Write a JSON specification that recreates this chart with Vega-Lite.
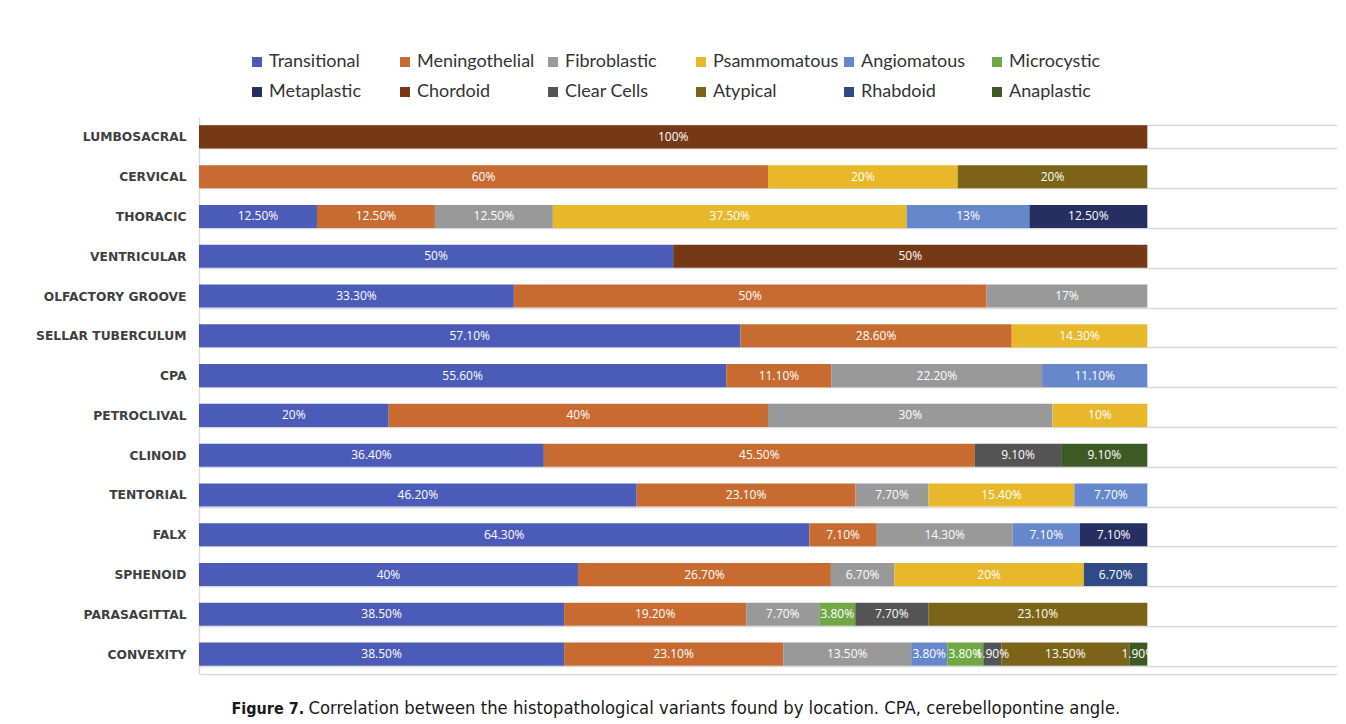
{
  "$schema": "https://vega.github.io/schema/vega-lite/v6.json",
  "width": 1138,
  "height": 557,
  "autosize": {"type": "none"},
  "padding": {"left": 199, "top": 117, "right": 9, "bottom": 50},
  "background": "white",
  "config": {
    "view": {"stroke": null},
    "axis": {"labelFont": "DejaVu Sans", "titleFont": "DejaVu Sans Condensed"}
  },
  "data": {
    "values": [
      {"location": "LUMBOSACRAL", "variant": "Chordoid", "pct": 100, "label": "100%"},
      {"location": "CERVICAL", "variant": "Meningothelial", "pct": 60, "label": "60%"},
      {"location": "CERVICAL", "variant": "Psammomatous", "pct": 20, "label": "20%"},
      {"location": "CERVICAL", "variant": "Atypical", "pct": 20, "label": "20%"},
      {"location": "THORACIC", "variant": "Transitional", "pct": 12.5, "label": "12.50%"},
      {"location": "THORACIC", "variant": "Meningothelial", "pct": 12.5, "label": "12.50%"},
      {"location": "THORACIC", "variant": "Fibroblastic", "pct": 12.5, "label": "12.50%"},
      {"location": "THORACIC", "variant": "Psammomatous", "pct": 37.5, "label": "37.50%"},
      {"location": "THORACIC", "variant": "Angiomatous", "pct": 13, "label": "13%"},
      {"location": "THORACIC", "variant": "Metaplastic", "pct": 12.5, "label": "12.50%"},
      {"location": "VENTRICULAR", "variant": "Transitional", "pct": 50, "label": "50%"},
      {"location": "VENTRICULAR", "variant": "Chordoid", "pct": 50, "label": "50%"},
      {"location": "OLFACTORY GROOVE", "variant": "Transitional", "pct": 33.3, "label": "33.30%"},
      {"location": "OLFACTORY GROOVE", "variant": "Meningothelial", "pct": 50, "label": "50%"},
      {"location": "OLFACTORY GROOVE", "variant": "Fibroblastic", "pct": 17, "label": "17%"},
      {"location": "SELLAR TUBERCULUM", "variant": "Transitional", "pct": 57.1, "label": "57.10%"},
      {"location": "SELLAR TUBERCULUM", "variant": "Meningothelial", "pct": 28.6, "label": "28.60%"},
      {"location": "SELLAR TUBERCULUM", "variant": "Psammomatous", "pct": 14.3, "label": "14.30%"},
      {"location": "CPA", "variant": "Transitional", "pct": 55.6, "label": "55.60%"},
      {"location": "CPA", "variant": "Meningothelial", "pct": 11.1, "label": "11.10%"},
      {"location": "CPA", "variant": "Fibroblastic", "pct": 22.2, "label": "22.20%"},
      {"location": "CPA", "variant": "Angiomatous", "pct": 11.1, "label": "11.10%"},
      {"location": "PETROCLIVAL", "variant": "Transitional", "pct": 20, "label": "20%"},
      {"location": "PETROCLIVAL", "variant": "Meningothelial", "pct": 40, "label": "40%"},
      {"location": "PETROCLIVAL", "variant": "Fibroblastic", "pct": 30, "label": "30%"},
      {"location": "PETROCLIVAL", "variant": "Psammomatous", "pct": 10, "label": "10%"},
      {"location": "CLINOID", "variant": "Transitional", "pct": 36.4, "label": "36.40%"},
      {"location": "CLINOID", "variant": "Meningothelial", "pct": 45.5, "label": "45.50%"},
      {"location": "CLINOID", "variant": "Clear Cells", "pct": 9.1, "label": "9.10%"},
      {"location": "CLINOID", "variant": "Anaplastic", "pct": 9.1, "label": "9.10%"},
      {"location": "TENTORIAL", "variant": "Transitional", "pct": 46.2, "label": "46.20%"},
      {"location": "TENTORIAL", "variant": "Meningothelial", "pct": 23.1, "label": "23.10%"},
      {"location": "TENTORIAL", "variant": "Fibroblastic", "pct": 7.7, "label": "7.70%"},
      {"location": "TENTORIAL", "variant": "Psammomatous", "pct": 15.4, "label": "15.40%"},
      {"location": "TENTORIAL", "variant": "Angiomatous", "pct": 7.7, "label": "7.70%"},
      {"location": "FALX", "variant": "Transitional", "pct": 64.3, "label": "64.30%"},
      {"location": "FALX", "variant": "Meningothelial", "pct": 7.1, "label": "7.10%"},
      {"location": "FALX", "variant": "Fibroblastic", "pct": 14.3, "label": "14.30%"},
      {"location": "FALX", "variant": "Angiomatous", "pct": 7.1, "label": "7.10%"},
      {"location": "FALX", "variant": "Metaplastic", "pct": 7.1, "label": "7.10%"},
      {"location": "SPHENOID", "variant": "Transitional", "pct": 40, "label": "40%"},
      {"location": "SPHENOID", "variant": "Meningothelial", "pct": 26.7, "label": "26.70%"},
      {"location": "SPHENOID", "variant": "Fibroblastic", "pct": 6.7, "label": "6.70%"},
      {"location": "SPHENOID", "variant": "Psammomatous", "pct": 20, "label": "20%"},
      {"location": "SPHENOID", "variant": "Rhabdoid", "pct": 6.7, "label": "6.70%"},
      {"location": "PARASAGITTAL", "variant": "Transitional", "pct": 38.5, "label": "38.50%"},
      {"location": "PARASAGITTAL", "variant": "Meningothelial", "pct": 19.2, "label": "19.20%"},
      {"location": "PARASAGITTAL", "variant": "Fibroblastic", "pct": 7.7, "label": "7.70%"},
      {"location": "PARASAGITTAL", "variant": "Microcystic", "pct": 3.8, "label": "3.80%"},
      {"location": "PARASAGITTAL", "variant": "Clear Cells", "pct": 7.7, "label": "7.70%"},
      {"location": "PARASAGITTAL", "variant": "Atypical", "pct": 23.1, "label": "23.10%"},
      {"location": "CONVEXITY", "variant": "Transitional", "pct": 38.5, "label": "38.50%"},
      {"location": "CONVEXITY", "variant": "Meningothelial", "pct": 23.1, "label": "23.10%"},
      {"location": "CONVEXITY", "variant": "Fibroblastic", "pct": 13.5, "label": "13.50%"},
      {"location": "CONVEXITY", "variant": "Angiomatous", "pct": 3.8, "label": "3.80%"},
      {"location": "CONVEXITY", "variant": "Microcystic", "pct": 3.8, "label": "3.80%"},
      {"location": "CONVEXITY", "variant": "Clear Cells", "pct": 1.9, "label": "1.90%"},
      {"location": "CONVEXITY", "variant": "Atypical", "pct": 13.5, "label": "13.50%"},
      {"location": "CONVEXITY", "variant": "Anaplastic", "pct": 1.9, "label": "1.90%"}
    ]
  },
  "transform": [
    {"calculate": "indexof(['Transitional','Meningothelial','Fibroblastic','Psammomatous','Angiomatous','Microcystic','Metaplastic','Chordoid','Clear Cells','Atypical','Rhabdoid','Anaplastic'], datum.variant)", "as": "stackOrder"}
  ],
  "encoding": {
    "y": {
      "field": "location",
      "type": "nominal",
      "sort": ["LUMBOSACRAL", "CERVICAL", "THORACIC", "VENTRICULAR", "OLFACTORY GROOVE", "SELLAR TUBERCULUM", "CPA", "PETROCLIVAL", "CLINOID", "TENTORIAL", "FALX", "SPHENOID", "PARASAGITTAL", "CONVEXITY"],
      "scale": {"paddingInner": 0.42, "paddingOuter": 0.21},
      "axis": {
        "title": "Correlation between the histopathological variants found by location. CPA, cerebellopontine angle.",
        "titleAngle": 0,
        "titleX": 109,
        "titleY": 596,
        "titleAlign": "left",
        "titleBaseline": "alphabetic",
        "titleFontSize": 18.3,
        "titleFontWeight": "normal",
        "titleColor": "#1a1a1a",
        "labelFontSize": 12.3,
        "labelFontWeight": "bold",
        "labelColor": "#404040",
        "labelPadding": 13,
        "ticks": false,
        "tickBand": "extent",
        "grid": true,
        "gridColor": "#d9d9d9",
        "gridWidth": 1.5,
        "domainColor": "#d9d9d9",
        "domainWidth": 1.5
      }
    },
    "x": {
      "field": "pct",
      "type": "quantitative",
      "stack": "normalize",
      "scale": {"domain": [0, 1.2]},
      "axis": {
        "title": "Figure 7.",
        "titleX": 32,
        "titleY": 39,
        "titleAlign": "left",
        "titleBaseline": "alphabetic",
        "titleFontSize": 16,
        "titleFontWeight": "bold",
        "titleColor": "#1a1a1a",
        "labels": false,
        "ticks": false,
        "grid": false,
        "domainColor": "#d9d9d9",
        "domainWidth": 1.5
      }
    },
    "order": {"field": "stackOrder", "type": "quantitative"}
  },
  "layer": [
    {
      "mark": {"type": "bar"},
      "encoding": {
        "color": {
          "field": "variant",
          "type": "nominal",
          "scale": {
            "domain": ["Transitional", "Meningothelial", "Fibroblastic", "Psammomatous", "Angiomatous", "Microcystic", "Metaplastic", "Chordoid", "Clear Cells", "Atypical", "Rhabdoid", "Anaplastic"],
            "range": ["#4a5bb8", "#c76b30", "#999999", "#e6b82a", "#6687cb", "#70a845", "#262f62", "#763916", "#545454", "#7b6418", "#2f4a85", "#3e5a24"]
          },
          "legend": {
            "title": null,
            "orient": "none",
            "legendX": 49,
            "legendY": -64,
            "direction": "horizontal",
            "columns": 6,
            "gridAlign": "all",
            "columnPadding": 1,
            "rowPadding": 12,
            "symbolType": "square",
            "symbolSize": 100,
            "symbolStrokeWidth": 0,
            "labelFont": "Lato",
            "labelFontSize": 18,
            "labelColor": "#333333",
            "labelOffset": 3,
            "labelLimit": 200
          }
        }
      }
    },
    {
      "mark": {"type": "text", "color": "white", "font": "Open Sans", "fontSize": 12, "baseline": "middle", "align": "center"},
      "encoding": {
        "x": {"field": "pct", "type": "quantitative", "stack": "normalize", "bandPosition": 0.5},
        "text": {"field": "label", "type": "nominal"}
      }
    }
  ]
}
